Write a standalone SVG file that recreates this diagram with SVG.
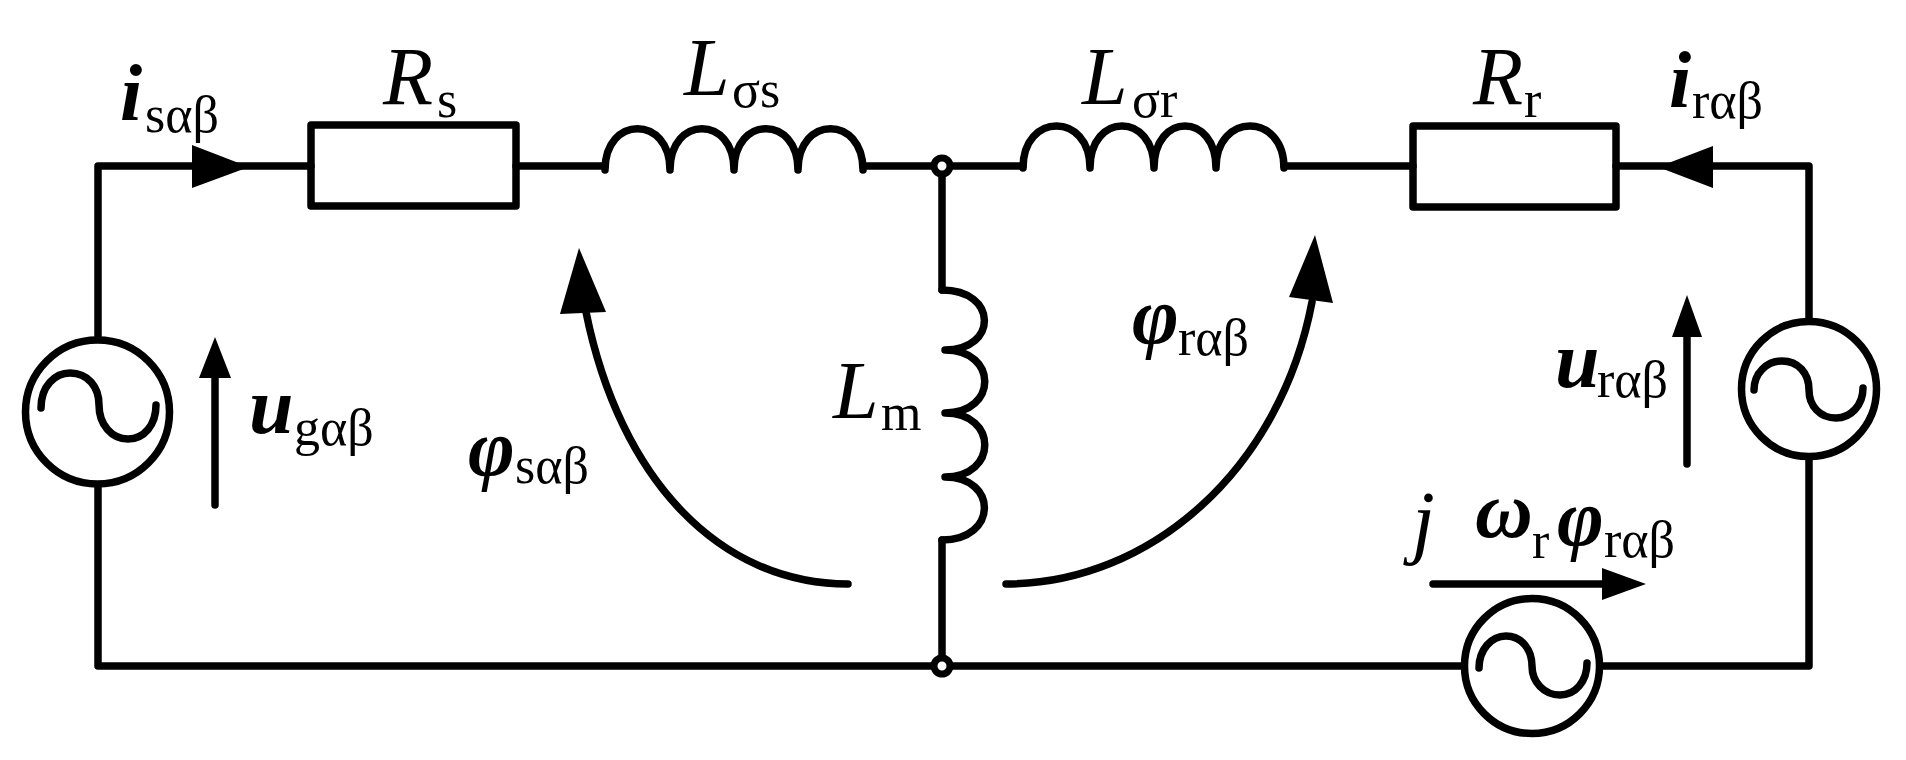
<svg xmlns="http://www.w3.org/2000/svg" width="1906" height="760" viewBox="0 0 1906 760">
<style>
.w{fill:none;stroke:#000;stroke-width:7.5;stroke-linecap:round;stroke-linejoin:round}
.f{fill:#000;stroke:none}
.t{font-family:"Liberation Serif","Times New Roman",serif;fill:#000}
.m{font-size:82px;font-style:italic}
.b{font-size:80px;font-style:italic;font-weight:bold}
.s{font-size:52px}
</style>
<rect width="1906" height="760" fill="#fff"/>
<g id="connectors">
<path class="w" d="M98 166H311M516 166H605M863 166H942H1023M1284 166H1413M1616 166H1809V320M1809 458V666H1603M1461 666H98V486M98 338V166"/>
<path class="w" d="M942 166V290M942 540V666"/>
<path class="f" d="M192 145L249 167L192 188Z"/>
<path class="f" d="M1658 167L1713 146V188Z"/>
<path class="w" d="M848 584C720 584 620 480 586 312"/>
<path class="f" d="M579 248L606 312L560 314Z"/>
<path class="w" d="M1006 584C1150 584 1280 470 1312 302"/>
<path class="f" d="M1315 235L1333 303L1289 297Z"/>
<path class="w" d="M215 505V370"/>
<path class="f" d="M215 337L231 378H199Z"/>
<path class="w" d="M1687 464V330"/>
<path class="f" d="M1687 295L1702 337H1672Z"/>
<path class="w" d="M1433 584H1610"/>
<path class="f" d="M1646 584L1602 568V600Z"/>
</g>
<g id="Rs"><rect class="w" x="311" y="125" width="205" height="81"/>
<text class="t" y="104"><tspan class="m" x="383">R</tspan><tspan class="s" x="437" y="117">s</tspan></text></g>
<g id="Lss"><path class="w" d="M605 170C605 115 670 115 670 170C670 115 734 115 734 170C734 115 798 115 798 170C798 115 863 115 863 170"/>
<text class="t" y="95"><tspan class="m" x="684">L</tspan><tspan class="s" x="732" y="107">σs</tspan></text></g>
<g id="Lsr"><path class="w" d="M1023 168C1023 112 1090 112 1090 168C1090 112 1154 112 1154 168C1154 112 1216 112 1216 168C1216 112 1284 112 1284 168"/>
<text class="t" y="104"><tspan class="m" x="1082">L</tspan><tspan class="s" x="1132" y="117">σr</tspan></text></g>
<g id="Rr"><rect class="w" x="1413" y="126" width="203" height="81"/>
<text class="t" y="104"><tspan class="m" x="1473">R</tspan><tspan class="s" x="1524" y="117">r</tspan></text></g>
<g id="Lm"><path class="w" d="M942 290C998 290 998 350 945 350C998 350 998 413 945 413C998 413 998 477 945 477C998 477 998 540 942 540"/>
<text class="t" y="418"><tspan class="m" x="833">L</tspan><tspan class="s" x="881" y="430">m</tspan></text></g>
<g id="nodeTop"><circle cx="942" cy="166" r="8" fill="#fff" stroke="#000" stroke-width="7"/></g>
<g id="nodeBottom"><circle cx="942" cy="666" r="8" fill="#fff" stroke="#000" stroke-width="7"/></g>
<g id="sourceGrid"><circle class="w" cx="97.500" cy="412" r="72"/>
<path class="w" d="M41 408C41 386 55 373 70 373C88 373 99 387 99 405C99 425 112 439 128 439C144 439 156 425 156 405"/></g>
<g id="sourceRotor"><circle class="w" cx="1809" cy="389" r="67.500"/>
<path class="w" d="M1754 390C1754 373 1767 361 1782 361C1798 361 1809 373 1809 390C1809 406 1820 418 1836 418C1851 418 1863 405 1863 388"/></g>
<g id="sourceEmf"><circle class="w" cx="1532" cy="666" r="67.500"/>
<path class="w" d="M1479 668C1479 650 1491 636 1506 636C1522 636 1532 650 1532 666C1532 682 1544 695 1560 695C1575 695 1587 682 1587 663"/></g>
<g id="labels">
<text class="t" y="120"><tspan class="b" x="120">i</tspan><tspan class="s" x="145" y="132">sαβ</tspan></text>
<text class="t" y="107"><tspan class="b" x="1669">i</tspan><tspan class="s" x="1692" y="118">rαβ</tspan></text>
<text class="t" y="343"><tspan class="b" x="1132">φ</tspan><tspan class="s" x="1178" y="355">rαβ</tspan></text>
<text class="t" y="475"><tspan class="b" x="468">φ</tspan><tspan class="s" x="515" y="483">sαβ</tspan></text>
<text class="t" y="387"><tspan class="b" x="1555">u</tspan><tspan class="s" x="1597" y="397">rαβ</tspan></text>
<text class="t" y="433"><tspan class="b" x="249">u</tspan><tspan class="s" x="294" y="445">gαβ</tspan></text>
<text class="t" y="548"><tspan class="m" x="1412">j</tspan><tspan class="b" x="1475" y="537">ω</tspan><tspan class="s" x="1532" y="558">r</tspan><tspan class="b" x="1557" y="545">φ</tspan><tspan class="s" x="1604" y="557">rαβ</tspan></text>
</g>
</svg>
